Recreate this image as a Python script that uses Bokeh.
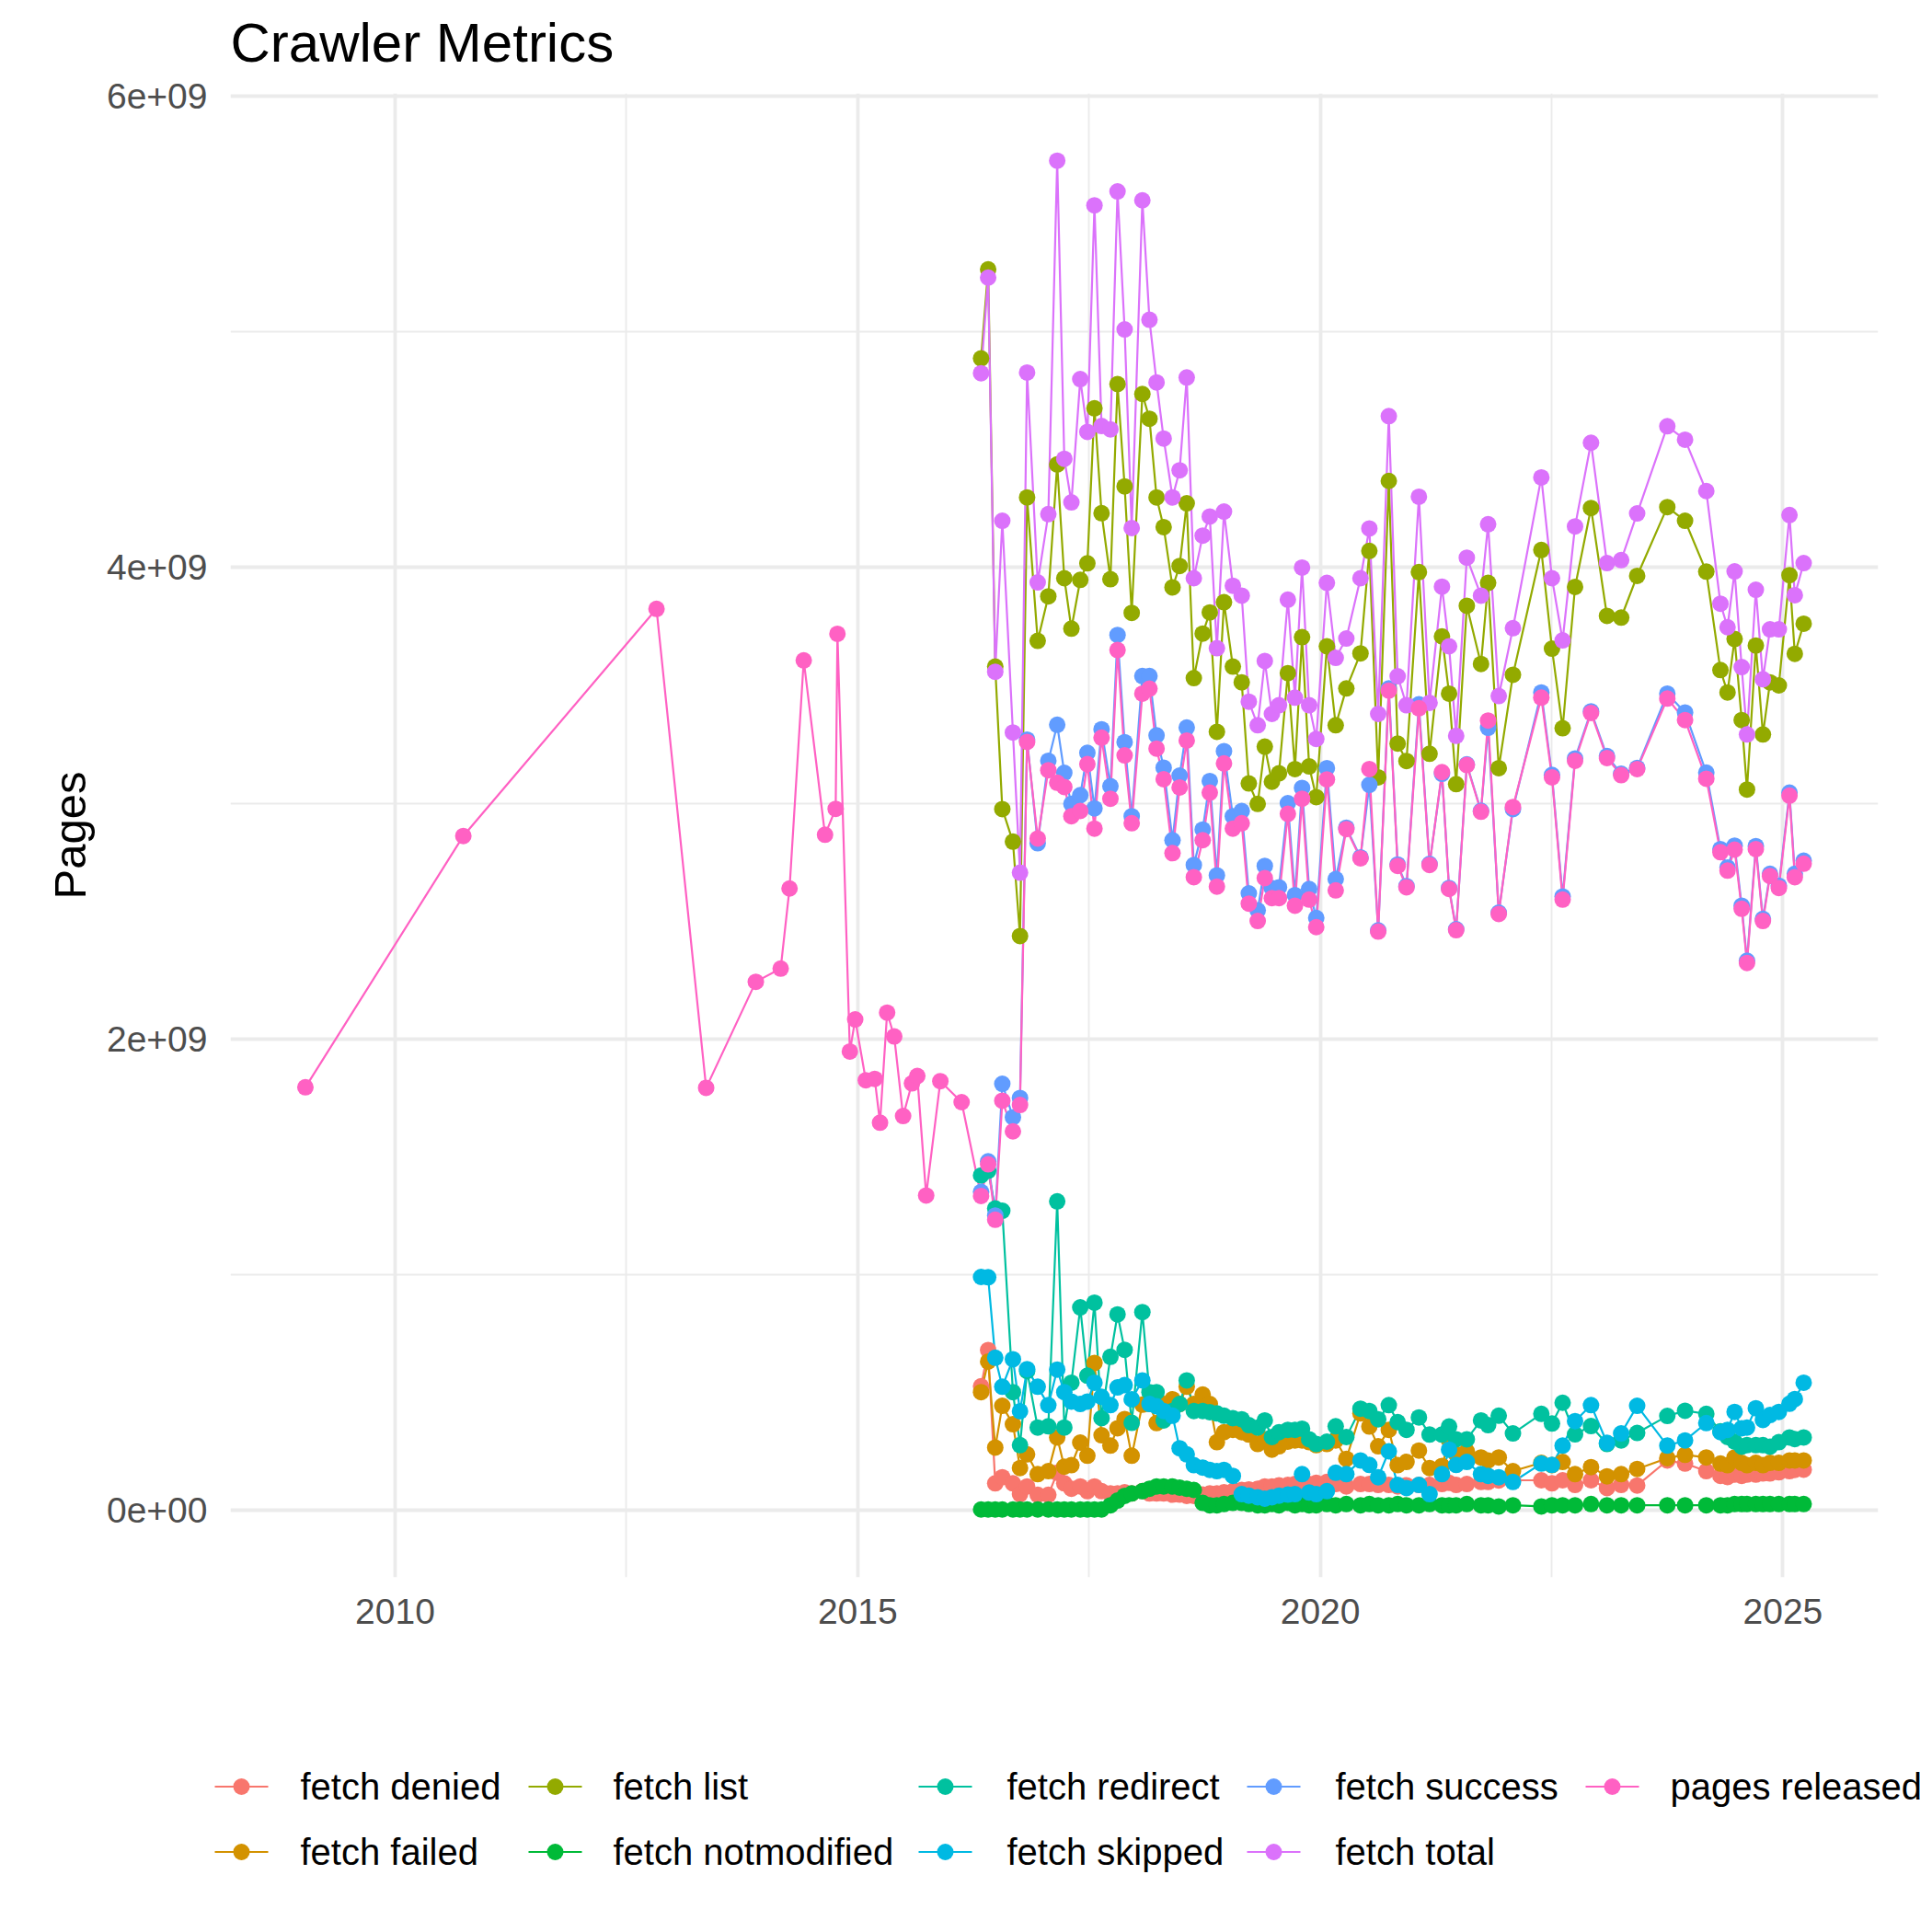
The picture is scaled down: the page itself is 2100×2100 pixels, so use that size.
import datetime as dt
from bokeh.plotting import figure
from bokeh.models import Range1d, FixedTicker, PrintfTickFormatter, CustomJSTickFormatter
from bokeh.embed import file_html
from bokeh.resources import INLINE
from bokeh.core.properties import value

SCALE = 1e9  # values below are in billions of pages

early_crawls = ["2009-03", "2010-39", "2012-44", "2013-20", "2013-48", "2014-10", "2014-15",
                "2014-23", "2014-35", "2014-41", "2014-42", "2014-49", "2014-52", "2015-06",
                "2015-11", "2015-14", "2015-18", "2015-22", "2015-27", "2015-32", "2015-35",
                "2015-40", "2015-48", "2016-07"]
pages_early = [1.794, 2.861, 3.825, 1.792, 2.242, 2.298, 2.638, 3.606, 2.866, 2.976, 3.719,
               1.946, 2.082, 1.824, 1.830, 1.644, 2.111, 2.010, 1.672, 1.811, 1.842, 1.335,
               1.820, 1.731]

main_crawls = ["2016-18", "2016-22", "2016-26", "2016-30", "2016-36", "2016-40", "2016-44", "2016-50",
               "2017-04", "2017-09", "2017-13", "2017-17", "2017-22", "2017-26", "2017-30", "2017-34",
               "2017-39", "2017-43", "2017-47", "2017-51",
               "2018-05", "2018-09", "2018-13", "2018-17", "2018-22", "2018-26", "2018-30", "2018-34",
               "2018-39", "2018-43", "2018-47", "2018-51",
               "2019-04", "2019-09", "2019-13", "2019-18", "2019-22", "2019-26", "2019-30", "2019-35",
               "2019-39", "2019-43", "2019-47", "2019-51",
               "2020-05", "2020-10", "2020-16", "2020-24", "2020-29", "2020-34", "2020-40", "2020-45",
               "2020-50",
               "2021-04", "2021-10", "2021-17", "2021-21", "2021-25", "2021-31", "2021-39", "2021-43",
               "2021-49",
               "2022-05", "2022-21", "2022-27", "2022-33", "2022-40", "2022-49",
               "2023-06", "2023-14", "2023-23", "2023-40", "2023-50",
               "2024-10", "2024-18", "2024-22", "2024-26", "2024-30", "2024-33", "2024-38", "2024-42",
               "2024-46", "2024-51",
               "2025-05", "2025-08", "2025-13"]

fetch_total = [4.825, 5.231, 3.558, 4.199, 3.300, 2.705, 4.828, 3.937,
               4.227, 5.727, 4.462, 4.277, 4.800, 4.576, 5.538, 4.601, 4.587, 5.597, 5.011, 4.168,
               5.559, 5.052, 4.786, 4.548, 4.298, 4.413, 4.807, 3.955, 4.136, 4.217, 3.658, 4.238,
               3.923, 3.881, 3.431, 3.331, 3.604, 3.379, 3.416, 3.864, 3.448, 4.000, 3.416, 3.273,
               3.935, 3.617, 3.699, 3.955, 4.166, 3.379, 4.643, 3.539, 3.416,
               4.301, 3.426, 3.919, 3.666, 3.286, 4.042, 3.881, 4.184, 3.455,
               3.743, 4.383, 3.955, 3.691, 4.175, 4.530,
               4.019, 4.032, 4.230, 4.600, 4.543,
               4.325, 3.847, 3.747, 3.984, 3.578, 3.292, 3.906, 3.526, 3.738, 3.738,
               4.223, 3.883, 4.019]

fetch_list = [4.888, 5.266, 3.580, 2.975, 2.837, 2.436, 4.298, 3.689,
              3.878, 4.438, 3.955, 3.741, 3.948, 4.018, 4.676, 4.231, 3.951, 4.779, 4.345, 3.808,
              4.737, 4.632, 4.298, 4.172, 3.916, 4.007, 4.273, 3.531, 3.720, 3.810, 3.303, 3.853,
              3.580, 3.513, 3.084, 2.997, 3.240, 3.091, 3.127, 3.552, 3.145, 3.705, 3.156, 3.026,
              3.666, 3.331, 3.487, 3.636, 4.071, 3.110, 4.368, 3.253, 3.179,
              3.981, 3.210, 3.708, 3.465, 3.081, 3.838, 3.591, 3.935, 3.149,
              3.545, 4.075, 3.656, 3.318, 3.918, 4.253,
              3.795, 3.788, 3.965, 4.257, 4.199,
              3.983, 3.565, 3.470, 3.697, 3.353, 3.058, 3.669, 3.292, 3.513, 3.500,
              3.968, 3.634, 3.762]

pages_main = [1.333, 1.467, 1.232, 1.737, 1.607, 1.719, 3.260, 2.850,
              3.140, 3.087, 3.069, 2.945, 2.967, 3.166, 2.892, 3.278, 3.019, 3.650, 3.203, 2.915,
              3.465, 3.486, 3.232, 3.102, 2.788, 3.067, 3.266, 2.686, 2.843, 3.045, 2.646, 3.169,
              2.892, 2.915, 2.574, 2.500, 2.682, 2.597, 2.597, 2.955, 2.565, 3.019, 2.591, 2.474,
              3.101, 2.630, 2.890, 2.766, 3.145, 2.455, 3.478, 2.734, 2.643,
              3.403, 2.738, 3.132, 2.636, 2.461, 3.162, 2.964, 3.351, 2.530,
              2.984, 3.448, 3.110, 2.591, 3.180, 3.383,
              3.192, 3.119, 3.145, 3.444, 3.353,
              3.104, 2.792, 2.714, 2.803, 2.552, 2.322, 2.805, 2.500, 2.691, 2.640,
              3.032, 2.686, 2.743]

fetch_success = [1.350, 1.480, 1.250, 1.809, 1.667, 1.749, 3.270, 2.830,
                 3.180, 3.333, 3.129, 2.997, 3.034, 3.214, 2.978, 3.314, 3.072, 3.714, 3.259, 2.945,
                 3.540, 3.540, 3.288, 3.151, 2.843, 3.117, 3.321, 2.738, 2.888, 3.094, 2.694, 3.221,
                 2.945, 2.967, 2.617, 2.545, 2.734, 2.640, 2.643, 3.000, 2.610, 3.065, 2.636, 2.513,
                 3.149, 2.678, 2.896, 2.770, 3.078, 2.460, 3.487, 2.740, 2.648,
                 3.420, 2.742, 3.125, 2.640, 2.465, 3.165, 2.968, 3.320, 2.535,
                 2.975, 3.470, 3.120, 2.604, 3.190, 3.390,
                 3.200, 3.125, 3.150, 3.465, 3.385,
                 3.130, 2.805, 2.727, 2.820, 2.565, 2.331, 2.818, 2.509, 2.700, 2.650,
                 3.045, 2.700, 2.756]

fetch_redirect = [1.420, 1.440, 1.280, 1.270, 0.500, 0.275, 0.590, 0.350,
                  0.355, 1.310, 0.350, 0.540, 0.860, 0.570, 0.880, 0.390, 0.650, 0.830, 0.680, 0.370,
                  0.840, 0.500, 0.500, 0.380, 0.420, 0.450, 0.550, 0.420, 0.420, 0.415, 0.410, 0.400,
                  0.390, 0.385, 0.360, 0.350, 0.380, 0.310, 0.330, 0.340, 0.340, 0.345, 0.300, 0.280,
                  0.290, 0.355, 0.310, 0.430, 0.420, 0.385, 0.445, 0.373, 0.340,
                  0.393, 0.320, 0.320, 0.354, 0.300, 0.300, 0.380, 0.360, 0.400,
                  0.325, 0.408, 0.367, 0.455, 0.321, 0.356,
                  0.280, 0.295, 0.327, 0.399, 0.421,
                  0.408, 0.334, 0.310, 0.290, 0.269, 0.275, 0.275, 0.275, 0.269, 0.288,
                  0.308, 0.301, 0.308]

fetch_skipped = [0.989, 0.988, 0.646, 0.523, 0.640, 0.419, 0.598, 0.523,
                 0.445, 0.596, 0.500, 0.460, 0.450, 0.460, 0.540, 0.480, 0.445, 0.520, 0.530, 0.470,
                 0.550, 0.450, 0.440, 0.420, 0.400, 0.262, 0.236, 0.190, 0.180, 0.170, 0.165, 0.170,
                 0.145, 0.067, 0.061, 0.054, 0.048, 0.054, 0.061, 0.065, 0.067, 0.152, 0.074, 0.067,
                 0.080, 0.158, 0.152, 0.210, 0.191, 0.139, 0.249, 0.106, 0.093,
                 0.106, 0.067, 0.152, 0.256, 0.191, 0.204, 0.152, 0.145, 0.139,
                 0.119, 0.197, 0.191, 0.273, 0.377, 0.445,
                 0.285, 0.325, 0.442, 0.273, 0.295,
                 0.369, 0.330, 0.340, 0.416, 0.347, 0.350, 0.432, 0.382, 0.403, 0.416,
                 0.451, 0.471, 0.540]

fetch_failed = [0.500, 0.630, 0.265, 0.442, 0.364, 0.178, 0.236, 0.152,
                0.165, 0.308, 0.184, 0.190, 0.286, 0.230, 0.624, 0.317, 0.273, 0.347, 0.386, 0.230,
                0.447, 0.450, 0.369, 0.450, 0.470, 0.450, 0.523, 0.450, 0.490, 0.450, 0.288, 0.330,
                0.340, 0.330, 0.320, 0.280, 0.300, 0.256, 0.270, 0.290, 0.295, 0.295, 0.288, 0.275,
                0.280, 0.295, 0.217, 0.410, 0.354, 0.270, 0.340, 0.190, 0.204,
                0.252, 0.178, 0.187, 0.295, 0.236, 0.249, 0.223, 0.210, 0.223,
                0.165, 0.200, 0.190, 0.204, 0.152, 0.182,
                0.143, 0.152, 0.174, 0.220, 0.234,
                0.223, 0.197, 0.190, 0.223, 0.200, 0.190, 0.200, 0.190, 0.200, 0.200,
                0.210, 0.210, 0.210]

fetch_denied = [0.525, 0.679, 0.113, 0.139, 0.113, 0.067, 0.100, 0.064,
                0.064, 0.158, 0.113, 0.090, 0.100, 0.080, 0.100, 0.080, 0.070, 0.070, 0.075, 0.070,
                0.080, 0.070, 0.070, 0.070, 0.065, 0.065, 0.060, 0.060, 0.065, 0.070, 0.070, 0.075,
                0.080, 0.085, 0.087, 0.090, 0.100, 0.100, 0.105, 0.106, 0.110, 0.115, 0.110, 0.115,
                0.119, 0.110, 0.100, 0.110, 0.110, 0.106, 0.106, 0.100, 0.105,
                0.106, 0.106, 0.110, 0.115, 0.106, 0.110, 0.119, 0.119, 0.125,
                0.126, 0.126, 0.113, 0.126, 0.106, 0.126,
                0.093, 0.106, 0.104, 0.210, 0.197,
                0.165, 0.145, 0.140, 0.150, 0.145, 0.150, 0.150, 0.155, 0.155, 0.160,
                0.165, 0.170, 0.171]

fetch_notmodified = [0.002, 0.002, 0.002, 0.002, 0.002, 0.002, 0.002, 0.002,
                     0.002, 0.002, 0.002, 0.002, 0.002, 0.002, 0.002, 0.002, 0.020, 0.040, 0.060, 0.070,
                     0.080, 0.090, 0.100, 0.100, 0.100, 0.095, 0.090, 0.085, 0.030, 0.020, 0.020, 0.025,
                     0.030, 0.030, 0.025, 0.020, 0.020, 0.025, 0.020, 0.030, 0.020, 0.025, 0.020, 0.020,
                     0.025, 0.020, 0.025, 0.020, 0.025, 0.020, 0.020, 0.025, 0.020,
                     0.020, 0.025, 0.020, 0.020, 0.020, 0.025, 0.020, 0.020, 0.015,
                     0.020, 0.015, 0.020, 0.020, 0.020, 0.025,
                     0.020, 0.020, 0.020, 0.020, 0.020,
                     0.020, 0.020, 0.020, 0.025, 0.025, 0.025, 0.025, 0.025, 0.025, 0.025,
                     0.025, 0.025, 0.025]

series_names = ["fetch denied", "fetch failed", "fetch list", "fetch notmodified", "fetch redirect",
                "fetch skipped", "fetch success", "fetch total", "pages released"]
series_colors = ["#F8766D", "#D39200", "#93AA00", "#00BA38", "#00C19F",
                 "#00B9E3", "#619CFF", "#DB72FB", "#FF61C3"]
title_text = "Crawler Metrics"


def dec_year(crawl):
    y, w = (int(s) for s in crawl.split("-"))
    d = dt.date.fromisocalendar(y, w, 1)
    start = dt.date(d.year, 1, 1)
    ndays = (dt.date(d.year + 1, 1, 1) - start).days
    return d.year + (d - start).days / ndays


x_main = [dec_year(c) for c in main_crawls]
x_early = [dec_year(c) for c in early_crawls]

series_values = [fetch_denied, fetch_failed, fetch_list, fetch_notmodified, fetch_redirect,
                 fetch_skipped, fetch_success, fetch_total, pages_early + pages_main]
series_x = [x_main] * 8 + [x_early + x_main]

FONT = "Liberation Sans"


def strip(height):
    """A plain canvas strip where one data unit is one pixel."""
    s = figure(width=2100, height=height, output_backend="svg", toolbar_location=None,
               x_range=Range1d(0, 2100), y_range=Range1d(0, height),
               x_axis_type=None, y_axis_type=None, min_border=0)
    s.outline_line_color = None
    s.grid.visible = False
    s.background_fill_color = "white"
    s.border_fill_color = "white"
    return s


# ---- title strip (80 px) ----
tt = strip(80)
tt.text(x=[250], y=[34.5], text=[title_text], text_baseline="middle", text_align="left",
        text_font=value(FONT), text_font_size="60px", text_color="black")

# ---- main plot (1740 px, frame from y=101 to y=1714 of the page) ----
p = figure(width=2100, height=1740, output_backend="svg", toolbar_location=None,
           x_range=Range1d(2008.22, 2026.03), y_range=Range1d(-0.286e9, 6.013e9),
           min_border_left=250, min_border_right=59, min_border_top=21, min_border_bottom=106)
p.outline_line_color = None
p.background_fill_color = "white"
p.border_fill_color = "white"

xticker = FixedTicker(ticks=[2010, 2015, 2020, 2025], minor_ticks=[2012.5, 2017.5, 2022.5])
yticker = FixedTicker(ticks=[0, 2e9, 4e9, 6e9], minor_ticks=[1e9, 3e9, 5e9])
p.xaxis.ticker = xticker
p.yaxis.ticker = yticker
p.xgrid.ticker = xticker
p.ygrid.ticker = yticker
p.xaxis.formatter = PrintfTickFormatter(format="%d")
p.yaxis.formatter = CustomJSTickFormatter(code="""
if (tick == 0) { return "0e+00"; }
const e = Math.floor(Math.log10(Math.abs(tick)));
const m = Math.round(tick / Math.pow(10, e) * 100) / 100;
return m + "e+" + (e < 10 ? "0" : "") + e;
""")

for ax in (p.xaxis, p.yaxis):
    ax.axis_line_color = None
    ax.major_tick_line_color = None
    ax.minor_tick_line_color = None
    ax.major_label_text_font = FONT
    ax.major_label_text_font_size = "39px"
    ax.major_label_text_color = "#4D4D4D"
p.xaxis.major_label_standoff = 17
p.yaxis.major_label_standoff = 19
p.yaxis.axis_label = "Pages"
p.yaxis.axis_label_text_font = FONT
p.yaxis.axis_label_text_font_size = "49px"
p.yaxis.axis_label_text_font_style = "normal"
p.yaxis.axis_label_text_color = "black"
p.yaxis.axis_label_standoff = 10

for g in (p.xgrid, p.ygrid):
    g.grid_line_color = "#EBEBEB"
    g.grid_line_width = 3.8
    g.minor_grid_line_color = "#EBEBEB"
    g.minor_grid_line_width = 1.9

for xs, vals, col in zip(series_x, series_values, series_colors):
    p.line(xs, [v * SCALE for v in vals], line_color=col, line_width=2.2)
for xs, vals, col in zip(series_x, series_values, series_colors):
    p.scatter(xs, [v * SCALE for v in vals], size=18, fill_color=col, line_color=None)

# ---- legend strip (280 px): 2 rows, filled column-wise as in the reference ----
lg = strip(280)
key_x = [262, 262, 603, 603, 1027, 1027, 1384, 1384, 1752]
text_x = [326, 326, 666, 666, 1094, 1094, 1451, 1451, 1815]
row_y = [158.5, 87.5, 158.5, 87.5, 158.5, 87.5, 158.5, 87.5, 158.5]
for name, col, kx, tx, ry in zip(series_names, series_colors, key_x, text_x, row_y):
    lg.segment(x0=[kx - 29], x1=[kx + 29], y0=[ry], y1=[ry], line_color=col, line_width=2.2)
    lg.scatter([kx], [ry], size=18, fill_color=col, line_color=None)
    lg.text(x=[tx], y=[ry], text=[name], text_baseline="middle", text_align="left",
            text_font=value(FONT), text_font_size="40px", text_color="black")

with open("out.html", "w") as f:
    f.write(file_html([tt, p, lg], INLINE))
